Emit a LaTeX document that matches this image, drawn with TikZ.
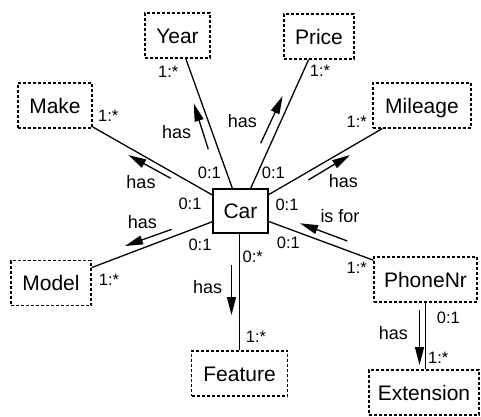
\documentclass[tikz,border=0pt]{standalone}
\usepackage{fontspec}
\setmainfont{Liberation Sans}
\usetikzlibrary{arrows.meta}
\begin{document}
\begin{tikzpicture}[x=1pt,y=-1pt,
  entity/.style={draw, line width=1.2pt, dash pattern=on 3pt off 2pt, inner sep=0pt,
    minimum height=45pt, text height=15pt, text depth=0pt, font=\fontsize{21}{25}\selectfont},
  carbox/.style={draw, line width=1.3pt, inner sep=0pt, minimum height=44pt, minimum width=55pt,
    text height=15pt, text depth=0pt, font=\fontsize{21}{25}\selectfont},
  link/.style={line width=1.3pt},
  dirarrow/.style={line width=1.3pt, -{Triangle[length=18pt,width=9pt]}},
  rolelbl/.style={inner sep=0pt, font=\fontsize{18}{20}\selectfont},
  mult/.style={inner sep=0pt, font=\fontsize{16.5}{19}\selectfont}]
\useasboundingbox (0,0) rectangle (481,416);
% nodes
\node[carbox] (car) at (240.5,211) {Car};
\node[entity, minimum width=65pt] (year) at (177.5,35.5) {Year};
\node[entity, minimum width=70pt] (price) at (319,36.5) {Price};
\node[entity, minimum width=74pt] (make) at (55,105.5) {Make};
\node[entity, minimum width=98pt] (mileage) at (422,105.5) {Mileage};
\node[entity, minimum width=80pt] (model) at (51,283) {Model};
\node[entity, minimum width=103pt] (phonenr) at (425.5,279.5) {PhoneNr};
\node[entity, minimum width=96pt] (feature) at (239.5,373.5) {Feature};
\node[entity, minimum width=110pt] (extension) at (424,392.5) {Extension};
% connectors
\draw[link] (car) -- (year);
\draw[link] (car) -- (price);
\draw[link] (car) -- (make);
\draw[link] (car) -- (model);
\draw[link] (car) -- (mileage);
\draw[link] (car) -- (phonenr);
\draw[link] (feature.north) -- (feature.north |- car.south);
\draw[link] (phonenr.south) -- (phonenr.south |- extension.north);
% Year
\coordinate (yA) at (208.3,149.3); \coordinate (yB) at (193.7,103.3);
\draw[dirarrow] (yA) -- (yB);
\node[rolelbl] (yh) at (176.7,131.7) {has};
\node[mult] (y0) at (209.3,172.7) {0:1};
\node[mult] (y1) at (168.3,71.7) {1:*};
% Price
\coordinate (pA) at (260.7,143.3); \coordinate (pB) at (282.7,96);
\draw[dirarrow] (pA) -- (pB);
\node[rolelbl] (ph) at (242.3,120.7) {has};
\node[mult] (p0) at (273.3,173.3) {0:1};
\node[mult] (p1) at (320,71) {1:*};
% Make
\coordinate (mA) at (170.7,178.3); \coordinate (mB) at (128.3,155);
\draw[dirarrow] (mA) -- (mB);
\node[rolelbl] (mh) at (141,181.7) {has};
\node[mult] (m0) at (190,204) {0:1};
\node[mult] (m1) at (108.3,116) {1:*};
% Model
\coordinate (moA) at (171.7,229.3); \coordinate (moB) at (125,246);
\draw[dirarrow] (moA) -- (moB);
\node[rolelbl] (moh) at (142.3,222.3) {has};
\node[mult] (mo0) at (200,245) {0:1};
\node[mult] (mo1) at (109,280) {1:*};
% Mileage
\coordinate (miA) at (308.3,180); \coordinate (miB) at (350,155);
\draw[dirarrow] (miA) -- (miB);
\node[rolelbl] (mih) at (343.3,181) {has};
\node[mult] (mi0) at (287,204.5) {0:1};
\node[mult] (mi1) at (356.7,121.7) {1:*};
% PhoneNr
\coordinate (phA) at (347.3,241); \coordinate (phB) at (300,223.3);
\draw[dirarrow] (phA) -- (phB);
\node[rolelbl] (phh) at (340,216) {is for};
\node[mult] (ph0) at (288.3,242.7) {0:1};
\node[mult] (ph1) at (356.7,268.3) {1:*};
% Feature
\coordinate (fA) at (231.5,265); \coordinate (fB) at (231.5,315);
\draw[dirarrow] (fA) -- (fB);
\node[rolelbl] (fh) at (207.7,286.7) {has};
\node[mult] (f0) at (252.7,256.7) {0:*};
\node[mult] (f1) at (256,337.3) {1:*};
% Extension
\coordinate (eA) at (419.5,310); \coordinate (eB) at (419.5,365);
\draw[dirarrow] (eA) -- (eB);
\node[rolelbl] (eh) at (393.3,332.7) {has};
\node[mult] (e0) at (448.3,318.3) {0:1};
\node[mult] (e1) at (438.3,358.3) {1:*};
\end{tikzpicture}
\end{document}
